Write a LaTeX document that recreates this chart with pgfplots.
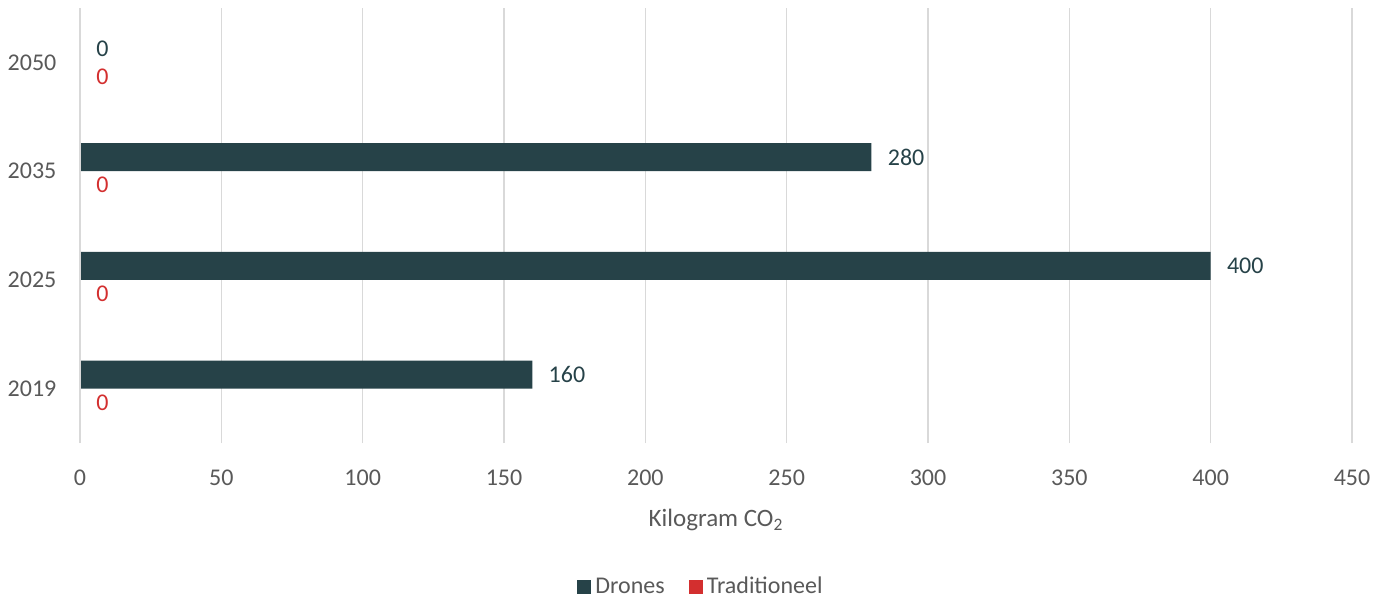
\documentclass[border=0pt]{standalone}
\usepackage{pgfplots}
\pgfplotsset{compat=1.18}
\usepackage{fontspec}
\setmainfont{Carlito}
\definecolor{dron}{HTML}{264248}
\definecolor{trad}{HTML}{D32F2F}
\definecolor{txt}{HTML}{595959}
\definecolor{grd}{HTML}{D9D9D9}
\begin{document}
\begin{tikzpicture}
\path (-40pt,-77pt) rectangle (653.5pt,221.5pt);
\begin{axis}[
  at={(0,0)}, anchor=south west,
  scale only axis, width=636pt, height=217.5pt,
  clip=false,
  xbar, bar width=14pt,
  xmin=0, xmax=450, ymin=-0.5, ymax=3.5,
  xtick={0,50,...,450},
  ytick={0,1,2,3}, yticklabels={2019,2025,2035,2050},
  /pgf/number format/assume math mode=true,
  font=\fontsize{12pt}{14pt}\selectfont,
  ticklabel style={text=txt, font=\fontsize{12pt}{14pt}\selectfont},
  xticklabel style={yshift=-10pt},
  yticklabel style={xshift=-4pt},
  axis line style={draw=none},
  tick style={draw=none},
  xmajorgrids, major grid style={grd, line width=0.75pt},
  xlabel={Kilogram CO\textsubscript{2}},
  xlabel style={text=txt, yshift=-5pt, font=\fontsize{12.5pt}{14pt}\selectfont},
  legend style={at={(0.5,-0.331)}, xshift=-7pt, anchor=center, draw=none, legend columns=2,
    font=\fontsize{12pt}{14pt}\selectfont, text=txt,
    /tikz/every even column/.append style={column sep=10pt}},
  legend image code/.code={\fill[#1] (0pt,-3.5pt) rectangle (7pt,3.5pt);},
  nodes near coords,
  every node near coord/.append style={anchor=west, inner sep=0pt, xshift=8pt, font=\fontsize{12pt}{14pt}\selectfont},
]
\addplot[fill=dron, draw=none, bar shift=7pt, nodes near coords style={text=dron}] coordinates {(160,0) (400,1) (280,2) (0,3)};
\addplot[fill=trad, draw=none, bar shift=-7pt, nodes near coords style={text=trad}] coordinates {(0,0) (0,1) (0,2) (0,3)};
\legend{Drones, Traditioneel}
\draw[grd, line width=0.75pt] (axis cs:0,-0.5) -- (axis cs:0,3.5);
\end{axis}
\end{tikzpicture}
\end{document}
